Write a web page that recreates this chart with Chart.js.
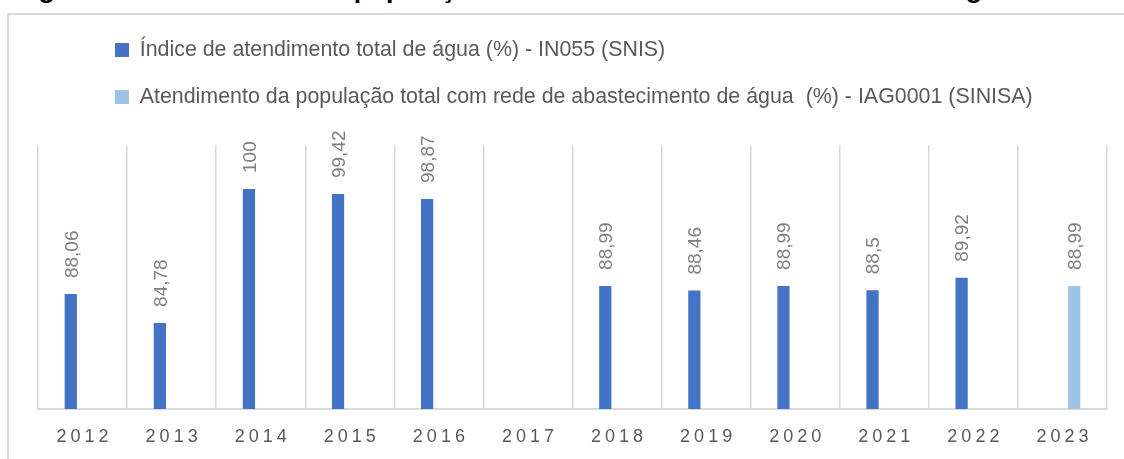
<!DOCTYPE html>
<html><head><meta charset="utf-8">
<script src="https://cdn.jsdelivr.net/npm/chart.js@4.4.1/dist/chart.umd.min.js"></script>
<style>
html,body{margin:0;padding:0;background:#fff;width:1124px;height:459px;overflow:hidden;}
#frame{position:absolute;left:7px;top:13px;width:1140px;height:470px;border:2px solid #d9d9d9;box-sizing:border-box;}
#title{position:absolute;left:15px;top:-20px;white-space:nowrap;font-family:"Liberation Sans",Arial,sans-serif;font-weight:bold;color:#000;line-height:1;font-size:24px;}
#wrap{position:absolute;left:0;top:0;width:1124px;height:459px;}
</style></head>
<body>
<div id="frame"></div>
<div id="title">Figura 3 – Atendimento da população total com rede de abastecimento de água</div>
<div id="wrap"><canvas id="c" width="1124" height="459"></canvas></div>
<script>
const categories = ['2012','2013','2014','2015','2016','2017','2018','2019','2020','2021','2022','2023'];
const snisValues = [88.06, 84.78, 100, 99.42, 98.87, null, 88.99, 88.46, 88.99, 88.5, 89.92, null];
const sinisaValues = [null, null, null, null, null, null, null, null, null, null, null, 88.99];
const seriesNames = [
  'Índice de atendimento total de água (%) - IN055 (SNIS)',
  'Atendimento da população total com rede de abastecimento de água  (%) - IAG0001 (SINISA)'
];
const yMin = 75, yMax = 105;

// title fit
const titleEl = document.getElementById('title');
const tw = titleEl.getBoundingClientRect().width;
const tSize = 24 * 998 / tw;
titleEl.style.fontSize = tSize + 'px';
titleEl.style.top = (-2 - 0.8465 * tSize) + 'px';

const FONT = '"Liberation Sans", Arial, sans-serif';
const mctx = document.createElement('canvas').getContext('2d');
mctx.font = '20px ' + FONT;
const legendSize = Math.round(20 * 525 / mctx.measureText(seriesNames[0]).width * 10) / 10;
const boxSize = 14;
const itemH = Math.max(legendSize, boxSize);
const legendPad = 47 - itemH;
const legendHeight = 2 * (itemH + legendPad) + 10;

const labelFont = 19;
const tickFont = 18;
const tickSpacing = 4;
const fmt = v => String(v).replace('.', ',');

const legendPos = {
  id: 'legendPos',
  afterLayout(chart) {
    const lg = chart.legend;
    const dx = 115 - (lg.left + legendPad);
    lg.left += dx; lg.right += dx;
    const dy = 50 - (lg.top + legendPad + itemH / 2);
    lg.top += dy; lg.bottom += dy;
  }
};
const tickLetterSpacing = {
  id: 'tickLetterSpacing',
  afterUpdate(chart) {
    const s = chart.scales.x;
    if (s._lsWrapped) return;
    const orig = s.drawLabels;
    s.drawLabels = function (a) {
      const ctx = this.ctx;
      ctx.save();
      ctx.letterSpacing = tickSpacing + 'px';
      ctx.translate(tickSpacing / 2, 0);
      orig.call(this, a);
      ctx.restore();
    };
    s._lsWrapped = true;
  }
};
const barLabels = {
  id: 'barLabels',
  afterDatasetsDraw(chart) {
    const ctx = chart.ctx;
    chart.data.datasets.forEach((ds, di) => {
      const meta = chart.getDatasetMeta(di);
      meta.data.forEach((bar, i) => {
        const v = ds.data[i];
        if (v === null || v === undefined) return;
        ctx.save();
        ctx.translate(bar.x + 0.36 * labelFont, bar.y - 16);
        ctx.rotate(-Math.PI / 2);
        ctx.font = labelFont + 'px ' + FONT;
        ctx.fillStyle = '#7f7f7f';
        ctx.textAlign = 'left';
        ctx.textBaseline = 'alphabetic';
        ctx.fillText(fmt(v), 0, 0);
        ctx.restore();
      });
    });
  }
};

new Chart(document.getElementById('c'), {
  type: 'bar',
  data: {
    labels: categories,
    datasets: [
      { label: seriesNames[0], data: snisValues, backgroundColor: '#4472C4', borderWidth: 0 },
      { label: seriesNames[1], data: sinisaValues, backgroundColor: '#9DC3E6', borderWidth: 0 }
    ]
  },
  options: {
    responsive: false,
    animation: false,
    datasets: { bar: { categoryPercentage: 0.528, barPercentage: 0.52 } },
    layout: { padding: { left: 38, right: 17, top: 145 - legendHeight, bottom: -5.6 } },
    plugins: {
      legend: {
        display: true,
        position: 'top',
        align: 'start',
        labels: {
          boxWidth: boxSize, boxHeight: boxSize, padding: legendPad,
          color: '#595959',
          font: { family: FONT, size: legendSize }
        }
      },
      tooltip: { enabled: false },
      title: { display: false }
    },
    scales: {
      x: {
        grid: { display: true, offset: true, color: '#d9d9d9', lineWidth: 1.5, drawTicks: false },
        border: { display: true, color: '#d9d9d9', width: 2 },
        ticks: { color: '#595959', padding: 17, font: { family: FONT, size: tickFont }, maxRotation: 0 }
      },
      y: { display: false, min: yMin, max: yMax }
    }
  },
  plugins: [legendPos, tickLetterSpacing, barLabels]
});
</script>
</body></html>
